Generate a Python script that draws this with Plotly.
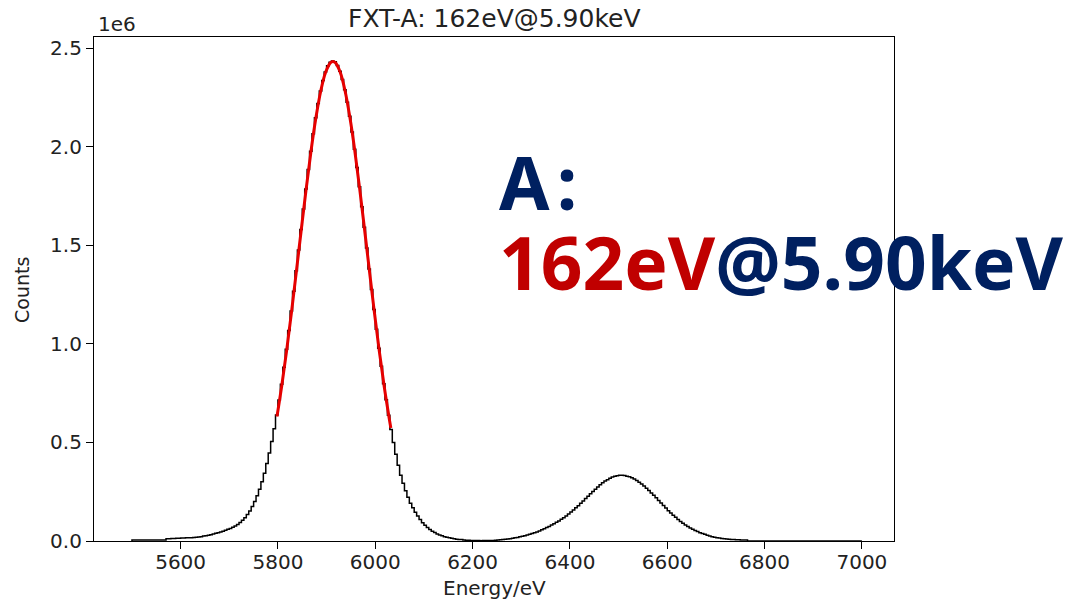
import numpy as np
import plotly.graph_objects as go

# ---- data ----
BIN_START = 5500          # eV, first bin edge
BIN_WIDTH = 5             # eV
# histogram counts per 5 eV bin, in thousands of counts
counts_k = [
    5, 5, 5, 5, 5, 5, 5, 5, 5, 5, 5, 5, 5, 5,
    12, 12, 13, 13, 14, 14, 15, 15, 16, 16, 17, 18, 19, 20,
    22, 25, 26, 29, 32, 35, 39, 42, 46, 50, 54, 59, 64, 70, 76, 84, 94, 105, 118, 134,
    152, 175, 200, 229, 263, 301, 344, 393, 446, 505, 569, 639,
    715, 795, 881, 972, 1068, 1166, 1267, 1371, 1476, 1580, 1684, 1785, 1884, 1977, 2065,
    2146, 2219, 2282, 2336, 2378, 2410, 2428, 2434,
    2430, 2412, 2382, 2340, 2288, 2225, 2154, 2074, 1987, 1894, 1796, 1695, 1591, 1486,
    1380, 1276, 1174, 1074, 978, 886, 798, 716, 638, 566, 500, 440, 384, 334,
    293, 255, 222, 192, 168, 146, 127, 109, 93, 80, 68, 58, 49, 43, 36, 31, 26, 22, 19,
    16, 14, 11, 9, 8, 7, 5, 4, 4, 3,
    2, 2, 2, 1, 2, 2, 2, 3, 3, 4, 5, 6, 7, 9, 10, 12, 14, 16, 18, 21, 24, 27, 31, 34, 38,
    42, 46, 51, 57, 62, 68, 74, 81, 88, 95, 102, 110, 118, 127, 137, 147, 157, 168, 179,
    191, 203, 215, 227, 240,
    251, 263, 274, 285, 295, 304, 311, 318, 324, 328, 331, 333, 333, 332, 329, 326, 321,
    314, 307, 298, 289, 279, 268, 256, 244, 232, 219, 206, 193, 180, 167, 154, 142, 130,
    120, 109, 99, 90, 81, 73, 66, 59, 53, 48, 42, 38, 34,
    29, 25, 22, 19, 17, 15, 13, 11, 10, 9, 8, 7, 6, 6, 5, 5, 5,
] + [0] * 47

# Gaussian fit curve (red), read at points along the curve
fit_energy = [5798, 5808, 5818, 5828, 5838, 5848, 5858, 5868, 5878, 5888, 5898, 5908, 5913,
              5918, 5928, 5938, 5948, 5958, 5968, 5978, 5988, 5998, 6008, 6018, 6028, 6032]
fit_counts_k = [631, 790, 968, 1163, 1370, 1580, 1786, 1978, 2146, 2282, 2377, 2426, 2432,
                2426, 2377, 2282, 2146, 1978, 1786, 1580, 1370, 1163, 968, 790, 631, 573]

x_ticks = [5600, 5800, 6000, 6200, 6400, 6600, 6800, 7000]
y_ticks = [0.0, 0.5, 1.0, 1.5, 2.0, 2.5]
y_tick_labels = ["0.0", "0.5", "1.0", "1.5", "2.0", "2.5"]

title_text = "FXT-A: 162eV@5.90keV"
label_line1 = "A\u200a:"
label_res = "162eV"
label_rest = "@5.90keV"

# ---- build figure ----
counts = np.array(counts_k, dtype=float) * 1e3
edges = BIN_START + BIN_WIDTH * np.arange(len(counts) + 1)
step_x = np.concatenate([[edges[0]], edges, [edges[-1]]])
step_y = np.concatenate([[0.0], counts, [counts[-1]], [0.0]])

fig = go.Figure()
fig.add_trace(go.Scatter(x=step_x, y=step_y, mode="lines", line_shape="hv",
                         line=dict(color="black", width=1.5), hoverinfo="skip",
                         showlegend=False))
fig.add_trace(go.Scatter(x=fit_energy, y=np.array(fit_counts_k) * 1e3, mode="lines",
                         line_shape="spline", line=dict(color="#e60000", width=3),
                         showlegend=False))

FONT = "DejaVu Sans"
TICK_COLOR = "#222222"

# the page body adds an 8 px offset; margins compensate for it
fig.update_layout(
    width=1071, height=600,
    margin=dict(l=86, r=185, t=29, b=67, pad=0),
    paper_bgcolor="white", plot_bgcolor="white",
    showlegend=False,
    font=dict(family=FONT, size=20, color=TICK_COLOR),
    xaxis=dict(range=[5422, 7066], tickvals=x_ticks, ticks="outside", ticklen=7,
               tickwidth=1.2, tickcolor="black", showline=True, linecolor="black",
               linewidth=1.2, mirror=True, showgrid=False, zeroline=False,
               ticklabelstandoff=-4,
               tickfont=dict(family=FONT, size=20, color=TICK_COLOR)),
    yaxis=dict(range=[0, 2.556e6], tickvals=[v * 1e6 for v in y_ticks],
               ticktext=y_tick_labels, ticks="outside", ticklen=7, tickwidth=1.2,
               tickcolor="black", showline=True, linecolor="black", linewidth=1.2,
               mirror=True, showgrid=False, zeroline=False,
               tickfont=dict(family=FONT, size=20, color=TICK_COLOR)),
)

ann = [
    dict(text=title_text, x=0.5, y=1.036, xref="paper", yref="paper",
         xanchor="center", yanchor="middle", showarrow=False,
         font=dict(family=FONT, size=25, color=TICK_COLOR)),
    dict(text="1e6", x=0.002, y=1.026, xref="paper", yref="paper",
         xanchor="left", yanchor="middle", showarrow=False,
         font=dict(family=FONT, size=20, color=TICK_COLOR)),
    dict(text="Counts", x=-0.09, y=0.498, xref="paper", yref="paper", textangle=-90,
         xanchor="center", yanchor="middle", showarrow=False,
         font=dict(family=FONT, size=19, color=TICK_COLOR)),
    dict(text="Energy/eV", x=0.5, y=-0.093, xref="paper", yref="paper",
         xanchor="center", yanchor="middle", showarrow=False,
         font=dict(family=FONT, size=20, color=TICK_COLOR)),
    dict(text=label_line1, x=0.504, y=0.714, xref="paper", yref="paper",
         xanchor="left", yanchor="middle", showarrow=False,
         font=dict(family="Noto Sans", size=73, color="#002060", weight="bold")),
    dict(text=f"<span style='color:#C00000'>{label_res}</span>{label_rest}",
         x=0.504, y=0.5536, xref="paper", yref="paper",
         xanchor="left", yanchor="middle", showarrow=False,
         font=dict(family="Noto Sans", size=73, color="#002060", weight="bold")),
]
fig.update_layout(annotations=ann)

fig.write_html("out.html")
